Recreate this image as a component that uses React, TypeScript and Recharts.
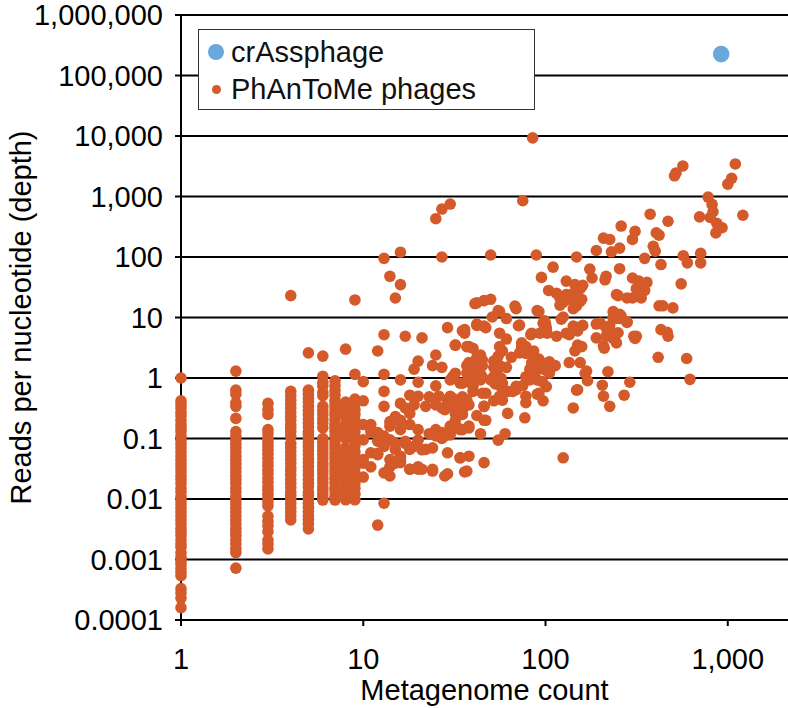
import { ScatterChart, Scatter, XAxis, YAxis, CartesianGrid, Legend, Label } from 'recharts'

const FONT = '"Liberation Sans", Arial, Helvetica, sans-serif'
const FONT_SIZE = 29
const ORANGE = '#d55a2a'
const BLUE = '#6ba7dd'

const xTicks = [1, 10, 100, 1000]
const yTicks = [0.0001, 0.001, 0.01, 0.1, 1, 10, 100, 1000, 10000, 100000, 1000000]

const crAssphage = [{ count: 920, depth: 226000 }]

// depth values of phages found in only 1..9 metagenomes (they stack into columns)
const col1 = [1.0, 0.42, 0.37, 0.32, 0.27, 0.235, 0.2, 0.17, 0.15, 0.13, 0.11, 0.094, 0.081, 0.07, 0.06, 0.051, 0.044, 0.038, 0.033, 0.028, 0.024, 0.021, 0.018, 0.015, 0.013, 0.011, 0.0096, 0.0083, 0.0071, 0.0061, 0.0052, 0.0045, 0.0039, 0.0033, 0.0029, 0.0025, 0.0021, 0.0018, 0.0016, 0.0013, 0.0011, 0.00095, 0.00084, 0.00072, 0.00062, 0.00054, 0.00033, 0.00028, 0.00023, 0.00016]
const col2 = [1.3, 0.63, 0.54, 0.39, 0.34, 0.215, 0.13, 0.11, 0.094, 0.081, 0.07, 0.06, 0.051, 0.044, 0.038, 0.033, 0.028, 0.024, 0.021, 0.018, 0.015, 0.013, 0.011, 0.0096, 0.0083, 0.0071, 0.0061, 0.0052, 0.0045, 0.0039, 0.0033, 0.0029, 0.0025, 0.0021, 0.0018, 0.0015, 0.0013, 0.00072]
const col3 = [0.38, 0.3, 0.25, 0.14, 0.12, 0.1, 0.086, 0.074, 0.064, 0.055, 0.047, 0.04, 0.035, 0.03, 0.026, 0.022, 0.019, 0.016, 0.014, 0.012, 0.0104, 0.009, 0.0077, 0.0052, 0.0043, 0.0036, 0.0029, 0.0021, 0.0018, 0.0015]
const col4 = [23, 0.6, 0.51, 0.43, 0.37, 0.32, 0.27, 0.23, 0.2, 0.17, 0.15, 0.13, 0.11, 0.083, 0.071, 0.061, 0.052, 0.045, 0.039, 0.033, 0.029, 0.025, 0.021, 0.018, 0.0155, 0.013, 0.0114, 0.0098, 0.0084, 0.0072, 0.0062, 0.0053, 0.0045]
const col5 = [2.6, 0.63, 0.54, 0.46, 0.4, 0.34, 0.29, 0.25, 0.21, 0.18, 0.155, 0.13, 0.115, 0.1, 0.085, 0.073, 0.063, 0.054, 0.046, 0.04, 0.034, 0.029, 0.025, 0.021, 0.018, 0.016, 0.013, 0.0115, 0.0099, 0.0085, 0.0073, 0.0062, 0.0053, 0.0046, 0.0039, 0.0032]
const col6 = [2.3, 1.07, 0.85, 0.74, 0.58, 0.51, 0.34, 0.29, 0.25, 0.21, 0.18, 0.15, 0.1, 0.086, 0.074, 0.064, 0.055, 0.047, 0.04, 0.035, 0.03, 0.026, 0.022, 0.019, 0.016, 0.014, 0.012, 0.0104, 0.0096]
const col7 = [0.9, 0.75, 0.62, 0.52, 0.43, 0.37, 0.32, 0.27, 0.235, 0.2, 0.17, 0.15, 0.13, 0.11, 0.094, 0.08, 0.069, 0.059, 0.051, 0.044, 0.038, 0.033, 0.028, 0.024, 0.021, 0.018, 0.015, 0.013, 0.011, 0.0096]
const col8 = [3.0, 0.4, 0.33, 0.28, 0.23, 0.17, 0.14, 0.12, 0.1, 0.07, 0.06, 0.05, 0.042, 0.035, 0.03, 0.025, 0.021, 0.017, 0.014, 0.0115, 0.0097]
const col9 = [19.5, 1.15, 0.45, 0.38, 0.3, 0.25, 0.2, 0.16, 0.13, 0.11, 0.09, 0.075, 0.06, 0.05, 0.04, 0.033, 0.027, 0.022, 0.018, 0.015, 0.012, 0.0097]

const columnDepths: [number, number[]][] = [
  [1, col1], [2, col2], [3, col3], [4, col4], [5, col5], [6, col6], [7, col7], [8, col8], [9, col9],
]

// [metagenome count, depth] for counts 10..49
const lowSpread: [number, number][] = [
  [25, 430], [27, 620], [30, 750], [16, 120], [13, 95], [27, 100], [14, 48], [16, 35], [15, 21],
  [41, 17], [46, 19], [42, 17.5], [29, 6.8], [35, 6.0], [42, 7.8], [46, 7.2], [36, 6.3], [42, 7.4], [47, 6.8],
  [13, 5.2], [17, 4.9], [21, 4.6], [32, 3.5], [37, 3.3], [40, 3.1], [12, 2.8], [25, 2.4], [44, 2.4], [45, 2.0],
  [20, 1.9], [19, 1.4], [24, 1.6], [27, 1.5], [32, 1.2], [37, 1.6], [40, 1.4], [44, 1.55], [13, 1.15], [10, 0.87],
  [16, 0.93], [20, 0.85], [25, 0.74], [30, 0.93], [35, 0.82], [38, 0.87], [45, 1.03], [13, 0.6], [18, 0.52],
  [20, 0.5], [23, 0.49], [26, 0.5], [29, 0.43], [31, 0.46], [35, 0.49], [40, 0.6], [45, 0.56], [10, 0.42],
  [13, 0.34], [16, 0.38], [17, 0.32], [19, 0.36], [22, 0.34], [25, 0.36], [27, 0.32], [30, 0.34], [32, 0.26],
  [35, 0.3], [38, 0.36], [42, 0.24], [46, 0.34], [10, 0.17], [11, 0.13], [12, 0.12], [14, 0.19], [15, 0.23],
  [16, 0.2], [18, 0.17], [20, 0.14], [23, 0.12], [25, 0.14], [28, 0.11], [30, 0.115], [34, 0.14], [38, 0.15],
  [44, 0.12], [47, 0.2], [10, 0.095], [12, 0.09], [13, 0.074], [14, 0.095], [15, 0.083], [17, 0.09], [19, 0.074],
  [21, 0.065], [24, 0.07], [29, 0.058], [27, 0.1], [34, 0.048], [38, 0.051], [46, 0.04], [10, 0.045], [11, 0.058],
  [12, 0.054], [14, 0.045], [16, 0.04], [18, 0.031], [20, 0.031], [24, 0.029], [29, 0.026], [37, 0.029], [10, 0.023],
  [14, 0.024], [11, 0.17], [12, 0.125], [13, 0.11], [14, 0.16], [15, 0.2], [16, 0.14], [18, 0.26], [10, 0.039],
  [11, 0.034], [12, 0.057], [14, 0.034], [13, 0.027], [15, 0.039], [16, 0.044], [18, 0.031], [13, 0.0085], [12, 0.0037],
  [20, 0.094], [22, 0.066], [25, 0.11], [27, 0.125], [30, 0.16], [32, 0.2], [35, 0.14], [17, 0.083], [18, 0.066],
  [16, 0.051], [15, 0.066], [20, 0.034], [21, 0.031], [24, 0.031], [28, 0.024], [36, 0.028], [34, 0.048],
  [38, 1.8], [42, 1.9], [36, 5.5], [31, 1.05], [34, 0.82], [30, 0.5], [33, 0.43], [37, 0.43], [40, 0.73], [32, 0.3],
  [35, 0.25], [38, 0.16], [33, 0.15], [29, 0.12], [28, 0.3], [38, 3.3], [42, 2.2], [45, 1.6], [37, 1.2], [44, 0.93],
  [40, 1.05], [44, 1.15], [47, 0.56], [46, 0.2], [46, 0.34], [32, 3.5],
]

// counts 50..299
const midSpread: [number, number][] = [
  [85, 9300], [75, 850], [260, 325], [208, 205], [225, 195], [300, 195], [50, 108], [89, 108], [148, 100],
  [190, 128], [230, 122], [255, 140], [110, 68], [95, 46], [175, 63], [180, 45], [212, 42], [215, 48], [255, 64],
  [130, 40], [145, 35], [160, 34], [155, 30], [104, 28], [115, 25], [120, 21], [130, 24], [142, 25], [158, 20],
  [125, 18], [135, 20], [148, 15.5], [245, 24], [280, 21], [250, 23], [50, 20], [56, 12.5], [69, 14], [68, 15.5],
  [90, 13], [92, 12.5], [55, 13], [120, 16], [142, 14], [155, 18.5], [235, 12.5], [260, 10.5], [280, 8.5],
  [225, 7.3], [250, 5.6], [51, 10.2], [61, 9.6], [72, 7.5], [99, 8.8], [101, 6.8], [115, 4.9], [125, 10.2],
  [142, 7.2], [160, 7.4], [150, 6], [200, 8], [215, 6.8], [240, 11.5], [255, 9.6], [280, 8.3], [240, 9.6],
  [190, 4.6], [208, 3.4], [215, 4.9], [235, 5.4], [245, 3.8], [235, 4.5], [210, 3.1], [56, 5.5], [61, 4.4],
  [71, 7.3], [84, 5.5], [102, 5.5], [100, 7.9], [122, 9.4], [130, 5.5], [148, 6.8], [190, 7.8], [235, 10],
  [255, 11.3], [83, 5.2], [93, 5.5], [97, 8], [74, 3.8], [86, 2.8], [78, 3.3], [56, 3.3], [135, 5.2], [158, 3.3],
  [145, 2.8], [155, 1.8], [165, 1.2], [170, 0.9], [220, 1.27], [205, 0.76], [290, 0.85], [270, 0.52], [135, 1.8],
  [148, 0.63], [208, 0.5], [142, 0.32], [150, 3.5], [168, 1.3], [150, 0.64], [225, 0.34], [52, 1.9], [58, 2.8],
  [56, 1.6], [65, 2.2], [74, 3.3], [78, 2.55], [84, 1.8], [92, 2.05], [96, 1.6], [105, 1.8], [113, 1.6], [72, 2.6],
  [55, 2.3], [61, 1.5], [54, 1.27], [57, 1.0], [52, 1.05], [58, 0.82], [69, 0.73], [82, 0.93], [96, 0.87],
  [105, 1.2], [93, 1.9], [101, 1.6], [110, 1.55], [97, 1.4], [87, 1.2], [78, 1.05], [90, 0.93], [53, 0.8],
  [86, 1.9], [105, 1.85], [93, 1.55], [82, 1.4], [103, 1.27], [50, 0.93], [52, 1.5], [56, 0.5], [66, 0.6],
  [78, 0.5], [92, 0.56], [75, 0.75], [69, 0.64], [62, 0.6], [57, 0.72], [58, 0.43], [101, 0.72], [90, 0.54],
  [97, 0.42], [78, 0.39], [77, 0.22], [62, 0.26], [52, 0.42], [55, 0.094], [60, 0.12], [125, 0.048],
]

// counts 300 and up
const highSpread: [number, number][] = [
  [567, 3200], [520, 2450], [510, 2200], [1100, 3450], [1050, 2000], [1000, 1600], [780, 980], [820, 740],
  [830, 560], [800, 450], [700, 460], [1210, 490], [870, 360], [930, 305], [860, 250], [375, 510], [470, 390],
  [310, 265], [405, 250], [420, 230], [350, 95], [390, 150], [400, 125], [430, 75], [570, 105], [600, 80],
  [710, 115], [710, 80], [300, 45], [325, 40], [360, 38], [315, 30], [335, 36], [350, 28], [300, 21], [335, 21],
  [440, 15.6], [500, 14.4], [420, 15.6], [555, 36], [430, 6.3], [465, 5.7], [470, 4.9], [415, 2.2], [595, 2.1],
  [620, 0.95], [305, 4.9], [310, 4.5], [315, 4.9],
]

const phantomeData = [
  ...columnDepths.flatMap(([count, depths]) => depths.map((depth) => ({ count, depth }))),
  ...[...lowSpread, ...midSpread, ...highSpread].map(([count, depth]) => ({ count, depth })),
]

const formatTick = (v: number) => (v >= 1 ? v.toLocaleString('en-US') : String(v))

const dot = (r: number, fill: string) => (props: any) =>
  <circle cx={props.cx} cy={props.cy} r={r} fill={fill} />

/** Boxed legend in the upper left of the plot, as in the figure */
function LegendBox() {
  const row = (top: number): React.CSSProperties => ({
    position: 'absolute', left: 32, top, height: 34, lineHeight: '34px', whiteSpace: 'nowrap',
  })
  const swatch = (cy: number, r: number, color: string): React.CSSProperties => ({
    position: 'absolute', left: 17 - r, top: cy - r, width: r * 2, height: r * 2,
    borderRadius: '50%', background: color,
  })
  return (
    <div
      style={{
        position: 'relative', width: 337, height: 81, boxSizing: 'border-box',
        border: '1.5px solid #333', background: '#fff', fontFamily: FONT, fontSize: FONT_SIZE, color: '#111',
      }}
    >
      <span style={swatch(22, 8, BLUE)} />
      <span style={row(5)}>crAssphage</span>
      <span style={swatch(59, 4.5, ORANGE)} />
      <span style={row(42)}>PhAnToMe phages</span>
    </div>
  )
}

export default function App() {
  const tickStyle = { fill: '#000', fontSize: FONT_SIZE, fontFamily: FONT }
  return (
    <div style={{ position: 'absolute', left: 0, top: 0, width: 788, height: 708, background: '#fff' }}>
      <ScatterChart width={788} height={708} margin={{ top: 15, right: 0, bottom: 0, left: 0 }}>
        <CartesianGrid horizontal vertical={false} stroke="#000" strokeWidth={2} />
        <XAxis
          dataKey="count"
          type="number"
          scale="log"
          domain={[1, 2140]}
          ticks={xTicks}
          interval={0}
          tickFormatter={formatTick}
          tick={tickStyle}
          tickSize={6}
          tickMargin={22}
          height={88}
          axisLine={{ stroke: '#000', strokeWidth: 2 }}
          tickLine={{ stroke: '#000', strokeWidth: 2 }}
        >
          <Label
            value="Metagenome count"
            position="insideBottom"
            offset={8}
            style={{ fill: '#000', fontSize: FONT_SIZE, fontFamily: FONT }}
          />
        </XAxis>
        <YAxis
          dataKey="depth"
          type="number"
          scale="log"
          domain={[0.0001, 1000000]}
          ticks={yTicks}
          interval={0}
          tickFormatter={formatTick}
          tick={tickStyle}
          tickSize={6}
          tickMargin={12}
          width={181}
          axisLine={{ stroke: '#000', strokeWidth: 2 }}
          tickLine={{ stroke: '#000', strokeWidth: 2 }}
        >
          <Label
            value="Reads per nucleotide (depth)"
            angle={-90}
            position="insideLeft"
            offset={21}
            style={{ fill: '#000', fontSize: FONT_SIZE, fontFamily: FONT, textAnchor: 'middle' }}
          />
        </YAxis>
        <Legend
          layout="vertical"
          align="center"
          verticalAlign="middle"
          wrapperStyle={{ left: 198, top: 29, width: 337 }}
          content={() => <LegendBox />}
        />
        <Scatter
          name="PhAnToMe phages"
          data={phantomeData}
          fill={ORANGE}
          shape={dot(5.8, ORANGE)}
          isAnimationActive={false}
        />
        <Scatter
          name="crAssphage"
          data={crAssphage}
          fill={BLUE}
          shape={dot(8.3, BLUE)}
          isAnimationActive={false}
        />
      </ScatterChart>
    </div>
  )
}
